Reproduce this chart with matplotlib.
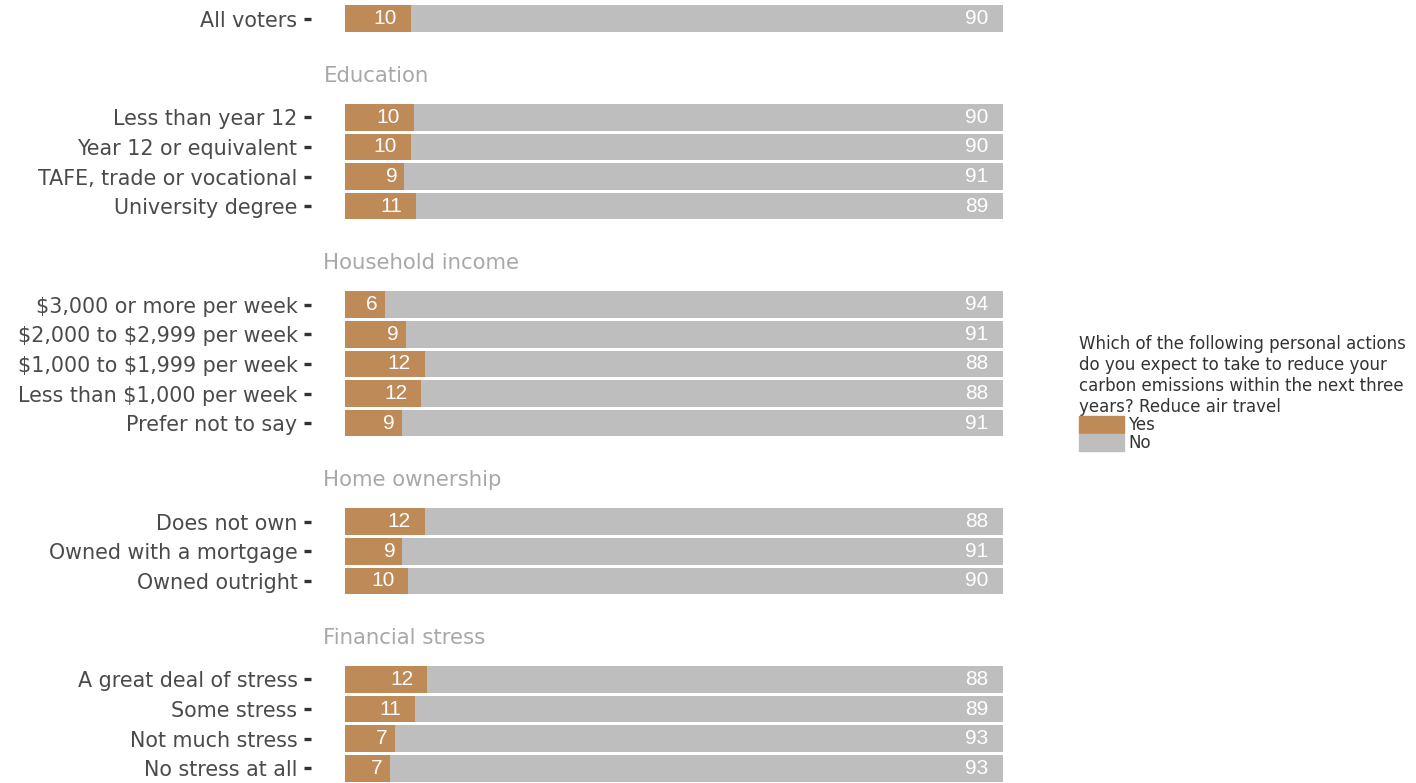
import matplotlib.pyplot as plt
from matplotlib.patches import Patch
from matplotlib.font_manager import FontProperties

# sections: (header, categories)
sections = [
    (None, ["All voters"]),
    ("Education", ["Less than year 12", "Year 12 or equivalent",
                   "TAFE, trade or vocational", "University degree"]),
    ("Household income", ["\\$3,000 or more per week", "\\$2,000 to \\$2,999 per week",
                          "\\$1,000 to \\$1,999 per week", "Less than \\$1,000 per week",
                          "Prefer not to say"]),
    ("Home ownership", ["Does not own", "Owned with a mortgage", "Owned outright"]),
    ("Financial stress", ["A great deal of stress", "Some stress",
                          "Not much stress", "No stress at all"]),
]

yes = [10.0,
       10.4, 10.0, 9.0, 10.8,
       6.0, 9.2, 12.1, 11.6, 8.6,
       12.1, 8.7, 9.6,
       12.5, 10.6, 7.5, 6.8]
no = [100 - v for v in yes]
yes_labels = ["10", "10", "10", "9", "11", "6", "9", "12", "12", "9",
              "12", "9", "10", "12", "11", "7", "7"]
no_labels = ["90", "90", "90", "91", "89", "94", "91", "88", "88", "91",
             "88", "91", "90", "88", "89", "93", "93"]

c_yes = "#BE8A57"
c_no = "#BEBEBE"

plt.rcParams['font.family'] = ['DejaVu Sans']
num_font = FontProperties(family=["Liberation Sans", "Roboto"], size=15)

fig = plt.figure(figsize=(14.16, 7.83), dpi=100)
ax = fig.add_axes([311 / 1416, 0.0, (1002.7 - 311) / 1416, (783 - 4) / 783])

# row positions
ypos, names, headers = [], [], []
y = 0.0
for i, (hdr, cats) in enumerate(sections):
    if i > 0:
        y += 3.33
        headers.append((hdr, y - 1.4))
    for j, c in enumerate(cats):
        if j > 0:
            y += 1
        ypos.append(y)
        names.append(c)

ax.barh(ypos, yes, height=0.9, color=c_yes, left=0)
ax.barh(ypos, no, height=0.9, color=c_no, left=yes)

for yy, v, lab in zip(ypos, yes, yes_labels):
    ax.annotate(lab, (v, yy), xytext=(-7 * len(lab), 0), textcoords="offset pixels",
                ha="right", va="center", color="white", fontproperties=num_font)
for yy, lab in zip(ypos, no_labels):
    ax.annotate(lab, (100, yy), xytext=(-7 * len(lab), 0), textcoords="offset pixels",
                ha="right", va="center", color="white", fontproperties=num_font)

for hdr, hy in headers:
    ax.text(-3.3, hy, hdr, ha="left", va="center", color="#A8A8A8", fontsize=15.3)

ax.set_yticks(ypos)
ax.set_yticklabels(names, fontsize=14.9, color="#4A4A4A")
ax.tick_params(axis="y", length=5.2, width=2.4, color="#333333", pad=4.5)
ax.set_xlim(-5.2, 100)
ax.set_ylim(ypos[-1] + 0.5, -0.5)
ax.set_xticks([])
for s in ax.spines.values():
    s.set_visible(False)

handles = [Patch(color=c_yes, label="Yes"), Patch(color=c_no, label="No")]
leg = fig.legend(handles=handles,
                 title="Which of the following personal actions\ndo you expect to take to reduce your\n"
                       "carbon emissions within the next three\nyears? Reduce air travel",
                 loc="upper left", bbox_to_anchor=(1079 / 1416, 1 - 335 / 783),
                 frameon=False, fontsize=12, title_fontsize=12, alignment="left",
                 handlelength=2.7, handleheight=1.12, labelspacing=0.0,
                 handletextpad=0.25, borderpad=0, borderaxespad=0)
for t in leg.get_texts():
    t.set_color("#333333")
leg.get_title().set_color("#333333")
leg.get_title().set_linespacing(1.22)

fig.savefig("out.png", dpi=100)
